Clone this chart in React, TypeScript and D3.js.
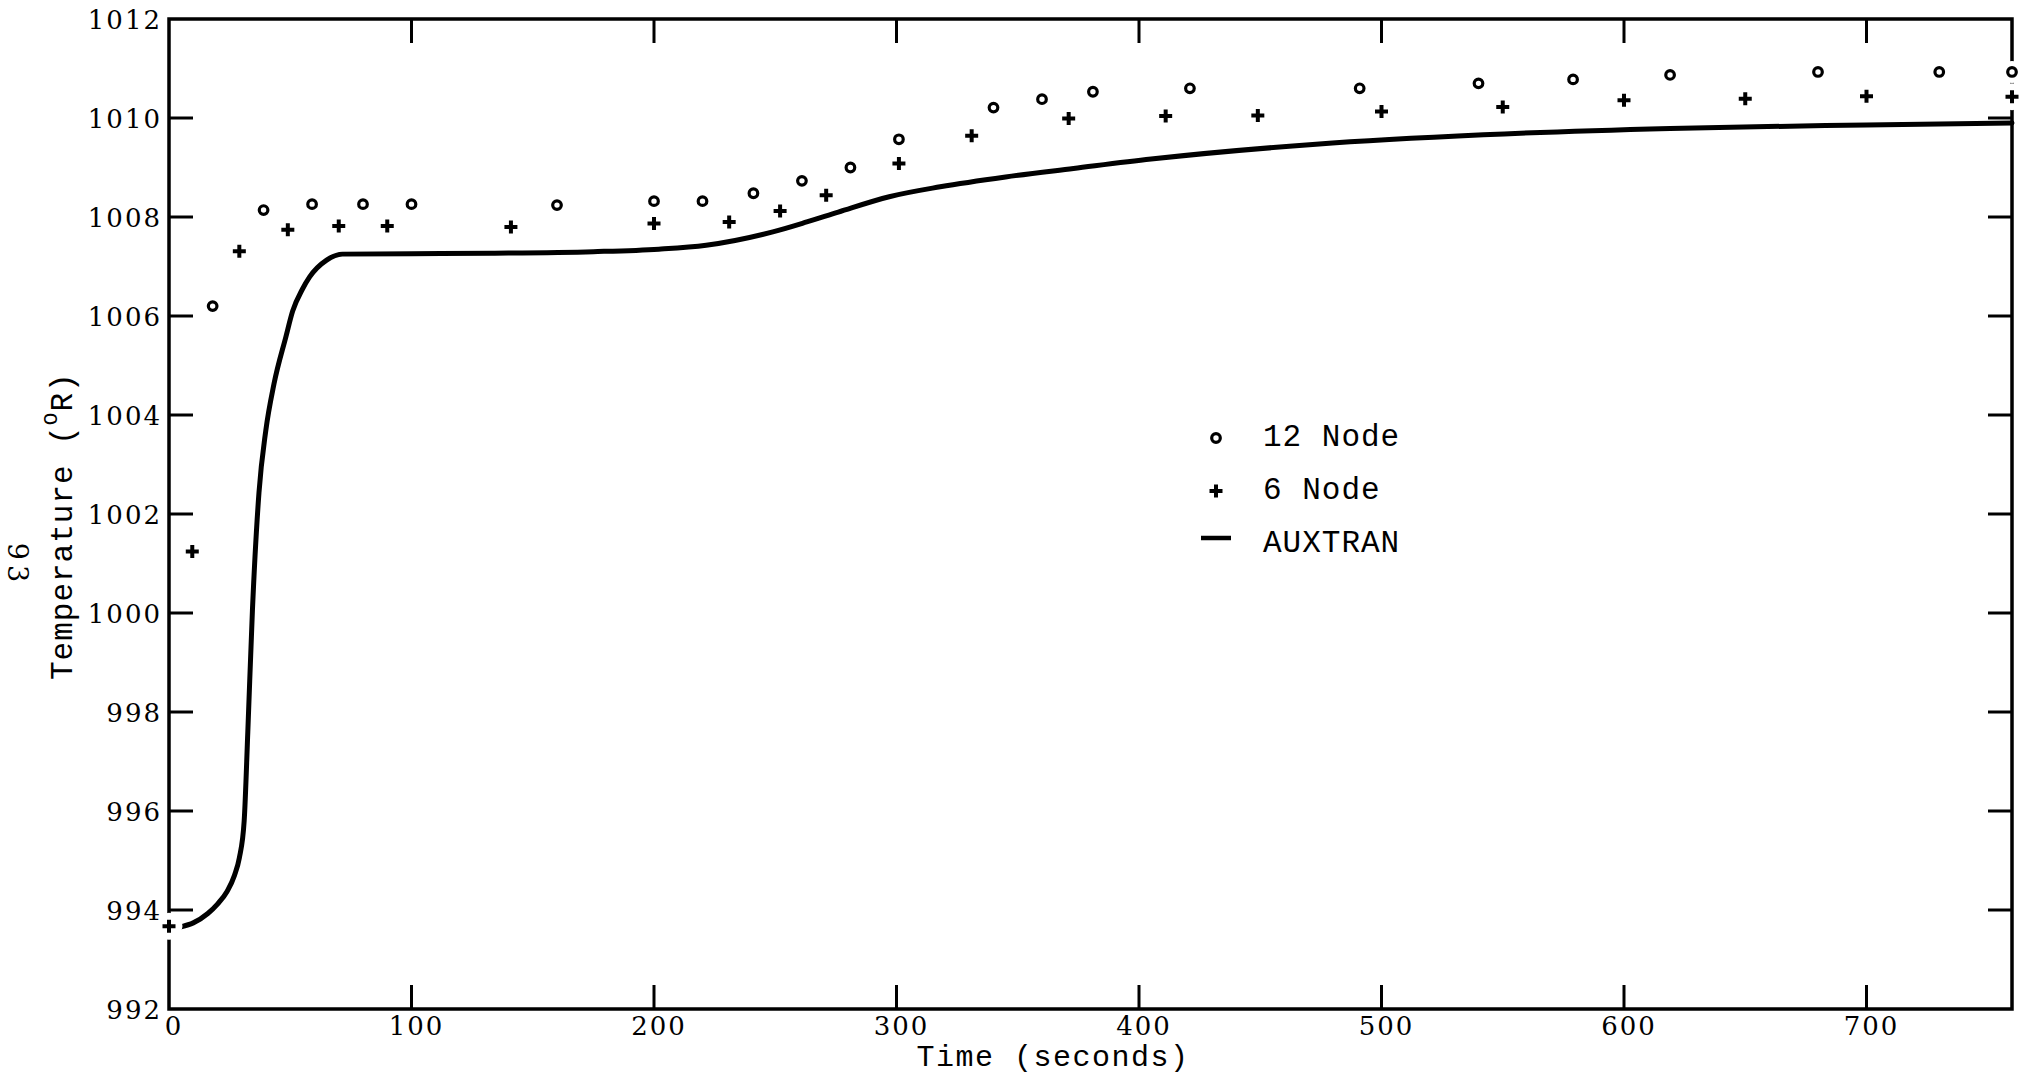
// Temperature vs time: 12 node / 6 node results against the AUXTRAN curve
import React from 'react';
import * as d3 from 'd3';

const width = 2031;
const height = 1079;

// AUXTRAN solution
const auxTime = [5, 10, 16, 20, 24, 27, 29, 31, 32.5, 34.4, 37.1, 39.9, 43.3, 48.2, 51, 55, 58, 65, 71.5, 100, 133, 175, 202, 221.5, 249, 263, 276, 297, 318, 345, 373, 405, 473, 542, 619, 700, 760];
const auxTemp = [993.66, 993.74, 993.93, 994.12, 994.38, 994.7, 995.05, 995.8, 997.6, 1000.05, 1002.43, 1003.68, 1004.63, 1005.58, 1006.1, 1006.54, 1006.79, 1007.13, 1007.25, 1007.26, 1007.27, 1007.3, 1007.35, 1007.43, 1007.7, 1007.9, 1008.1, 1008.41, 1008.61, 1008.81, 1008.98, 1009.17, 1009.47, 1009.66, 1009.79, 1009.86, 1009.9];

// 12 node model (circles)
const node12Time = [18, 39, 59, 80, 100, 160, 200, 220, 241, 261, 281, 301, 340, 360, 381, 421, 491, 540, 579, 619, 680, 730, 760];
const node12Temp = [1006.2, 1008.14, 1008.26, 1008.26, 1008.26, 1008.24, 1008.32, 1008.32, 1008.48, 1008.73, 1009.0, 1009.57, 1010.21, 1010.38, 1010.53, 1010.6, 1010.6, 1010.7, 1010.78, 1010.87, 1010.93, 1010.93, 1010.93];

// 6 node model (plus signs)
const node6Time = [0, 9.6, 29, 49, 70, 90, 141, 200, 231, 252, 271, 301, 331, 371, 411, 449, 500, 550, 600, 650, 700, 760];
const node6Temp = [993.67, 1001.24, 1007.31, 1007.74, 1007.82, 1007.82, 1007.8, 1007.87, 1007.9, 1008.12, 1008.44, 1009.08, 1009.64, 1009.99, 1010.04, 1010.05, 1010.13, 1010.22, 1010.36, 1010.39, 1010.44, 1010.43];

const yTicks = [992, 994, 996, 998, 1000, 1002, 1004, 1006, 1008, 1010, 1012];
const xTicks = [0, 100, 200, 300, 400, 500, 600, 700];
const legendLabels = ['12 Node', '6 Node', 'AUXTRAN'];

const serif = "'DejaVu Serif', 'Liberation Serif', serif";
const mono = "'Liberation Mono', 'DejaVu Sans Mono', monospace";

export default function App() {
  const x = d3.scaleLinear().domain([0, 760]).range([169, 2012]);
  const y = d3.scaleLinear().domain([992, 1012]).range([1009, 19]);

  const [x0, x1] = x.range();
  const [y0, y1] = y.range();
  const tickLen = 24;

  const auxData = auxTime.map((t, i) => [t, auxTemp[i]] as [number, number]);
  const line = d3.line<[number, number]>()
    .x(d => x(d[0]))
    .y(d => y(d[1]))
    .curve(d3.curveMonotoneX);

  const n12 = node12Time.map((t, i) => ({ cx: x(t), cy: y(node12Temp[i]) }));
  const n6 = node6Time.map((t, i) => ({ cx: x(t), cy: y(node6Temp[i]) }));

  const plusPath = (cx: number, cy: number, a: number) =>
    `M${cx - a},${cy}H${cx + a}M${cx},${cy - a}V${cy + a}`;

  // legend position
  const lgX = 1216;
  const lgY = [438, 491, 538];

  return (
    <svg width={width} height={height} style={{ position: 'absolute', left: 0, top: 0, background: '#fff' }}>
      <rect width={width} height={height} fill="#fff" />

      {/* frame */}
      <rect x={x0} y={y1} width={x1 - x0} height={y0 - y1} fill="none" stroke="#000" strokeWidth={3.5} />

      {/* ticks on all four sides, pointing inward */}
      {yTicks.slice(1, -1).map(v => (
        <g key={'yt' + v}>
          <line x1={x0} x2={x0 + tickLen} y1={y(v)} y2={y(v)} stroke="#000" strokeWidth={3} />
          <line x1={x1} x2={x1 - tickLen} y1={y(v)} y2={y(v)} stroke="#000" strokeWidth={3} />
        </g>
      ))}
      {xTicks.slice(1).map(v => (
        <g key={'xt' + v}>
          <line x1={x(v)} x2={x(v)} y1={y0} y2={y0 - tickLen} stroke="#000" strokeWidth={3} />
          <line x1={x(v)} x2={x(v)} y1={y1} y2={y1 + tickLen} stroke="#000" strokeWidth={3} />
        </g>
      ))}

      {/* tick labels */}
      {yTicks.map(v => (
        <text key={'yl' + v} x={x0 - 7} y={y(v) + 9.5} textAnchor="end" fontFamily={serif} fontSize={26} letterSpacing={2} fill="#000">
          {v}
        </text>
      ))}
      {xTicks.map(v => (
        <text key={'xl' + v} x={x(v) + 5} y={1035} textAnchor="middle" fontFamily={serif} fontSize={26} letterSpacing={2} fill="#000">
          {v}
        </text>
      ))}

      {/* axis titles */}
      <text x={1053} y={1066} textAnchor="middle" fontFamily={mono} fontSize={30} letterSpacing={1.5} fill="#000">
        Time (seconds)
      </text>
      <text transform="translate(72,680) rotate(-90)" fontFamily={mono} fontSize={31} letterSpacing={1} fill="#000">
        Temperature (<tspan dy={-15} fontSize={21}>O</tspan><tspan dy={15}>R)</tspan>
      </text>

      {/* page number */}
      <text transform="translate(8,565) rotate(90)" textAnchor="middle" fontFamily={serif} fontSize={27} letterSpacing={5} fill="#000">
        93
      </text>

      {/* AUXTRAN */}
      <path d={line(auxData) || ''} fill="none" stroke="#000" strokeWidth={5} strokeLinecap="round" strokeLinejoin="round" />

      {/* white halos so markers break the frame like the original plot */}
      {n12.map((d, i) => (
        <circle key={'h12' + i} cx={d.cx} cy={d.cy} r={11} fill="#fff" />
      ))}
      {n6.map((d, i) => (
        <path key={'h6' + i} d={plusPath(d.cx, d.cy, 7)} stroke="#fff" strokeWidth={13} strokeLinecap="round" />
      ))}

      {/* markers */}
      {n12.map((d, i) => (
        <circle key={'m12' + i} cx={d.cx} cy={d.cy} r={4.3} fill="#fff" stroke="#000" strokeWidth={3.2} />
      ))}
      {n6.map((d, i) => (
        <path key={'m6' + i} d={plusPath(d.cx, d.cy, 6.5)} stroke="#000" strokeWidth={4} />
      ))}

      {/* legend */}
      <circle cx={lgX} cy={lgY[0]} r={4.3} fill="#fff" stroke="#000" strokeWidth={3.2} />
      <path d={plusPath(lgX, lgY[1], 6.5)} stroke="#000" strokeWidth={4} />
      <line x1={lgX - 15} x2={lgX + 15} y1={lgY[2]} y2={lgY[2]} stroke="#000" strokeWidth={4.5} />
      {legendLabels.map((s, i) => (
        <text key={s} x={1263} y={[446, 499, 552][i]} fontFamily={mono} fontSize={31} letterSpacing={1} fill="#000">
          {s}
        </text>
      ))}
    </svg>
  );
}
